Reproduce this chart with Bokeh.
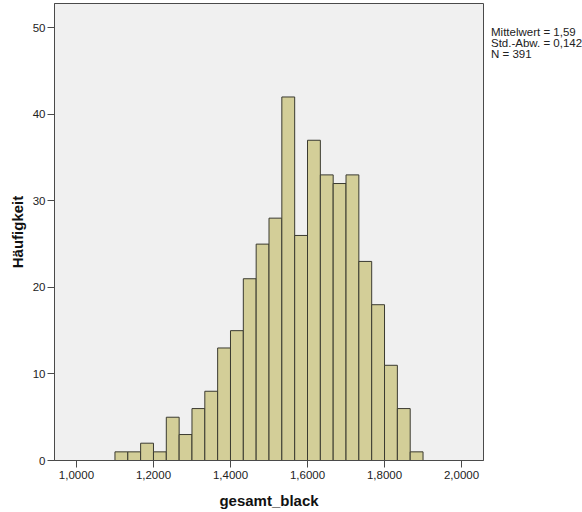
from bokeh.plotting import figure
from bokeh.models import FixedTicker, ColumnDataSource, Range1d
from bokeh.layouts import row
from bokeh.core.properties import value
from bokeh.embed import file_html
from bokeh.resources import INLINE

# Data
bin_start = 1.1
bin_end = 1.9
counts = [1, 1, 2, 1, 5, 3, 6, 8, 13, 15, 21, 25, 28, 42, 26, 37, 33, 32, 33, 23, 18, 11, 6, 1]
x_ticks = [1.0, 1.2, 1.4, 1.6, 1.8, 2.0]
x_tick_labels = ["1,0000", "1,2000", "1,4000", "1,6000", "1,8000", "2,0000"]
y_ticks = [0, 10, 20, 30, 40, 50]
stats_lines = ["Mittelwert = 1,59", "Std.-Abw. = 0,142", "N = 391"]

n = len(counts)
w = (bin_end - bin_start) / n
lefts = [bin_start + i * w for i in range(n)]
rights = [l + w for l in lefts]
src = ColumnDataSource(dict(left=lefts, right=rights, top=counts, bottom=[0] * n))

H = 512
TOP, BOTTOM = 3, 52
p = figure(width=484, height=H, output_backend="svg", toolbar_location=None,
           x_range=Range1d(0.943, 2.057), y_range=Range1d(0, 52.8),
           min_border_left=54, min_border_right=1, min_border_top=TOP, min_border_bottom=BOTTOM)
p.background_fill_color = "#F0F0F0"
p.border_fill_color = "white"
p.outline_line_color = "#4A4A4A"
p.outline_line_width = 1
p.grid.visible = False

p.quad(left="left", right="right", top="top", bottom="bottom", source=src,
       fill_color="#D3CE98", line_color="#3A3A30", line_width=1)

for ax in (p.xaxis[0], p.yaxis[0]):
    ax.axis_line_color = "#4A4A4A"
    ax.major_tick_line_color = "#4A4A4A"
    ax.major_tick_out = 7
    ax.major_tick_in = 0
    ax.minor_tick_line_color = None
    ax.major_label_text_font = "Liberation Sans"
    ax.major_label_text_font_size = "11.5px"
    ax.major_label_text_color = "#222222"
    ax.axis_label_text_font = "Liberation Sans"
    ax.axis_label_text_font_size = "15px"
    ax.axis_label_text_font_style = "bold"
    ax.axis_label_text_color = "#111111"

p.xaxis.ticker = FixedTicker(ticks=x_ticks)
p.xaxis.major_label_overrides = {t: l for t, l in zip(x_ticks, x_tick_labels)}
p.xaxis.axis_label = "gesamt_black"
p.xaxis.major_label_standoff = 3
p.xaxis.axis_label_standoff = 10

p.yaxis.ticker = FixedTicker(ticks=y_ticks)
p.yaxis.major_label_overrides = {t: str(t) for t in y_ticks}
p.yaxis.axis_label = "Häufigkeit"
p.yaxis.major_label_standoff = 2
p.yaxis.axis_label_standoff = 4

# statistics text panel to the right of the plot area (frame aligned with p's frame,
# y range chosen so that data y == H - screen y)
W2 = 582 - 484
p2 = figure(width=W2, height=H, output_backend="svg", toolbar_location=None,
            x_range=Range1d(0, W2), y_range=Range1d(BOTTOM, H - TOP),
            min_border_left=0, min_border_right=0,
            min_border_top=TOP, min_border_bottom=BOTTOM)
p2.axis.visible = False
p2.grid.visible = False
p2.outline_line_color = None
p2.background_fill_color = "white"
first_baseline = H - 31.5
pitch = 11.0
p2.text(x=[6.5] * len(stats_lines),
        y=[first_baseline - i * pitch for i in range(len(stats_lines))],
        text=stats_lines, text_align="left", text_baseline="alphabetic",
        text_font=value("Liberation Sans"), text_font_size="11.5px", text_color="#222222")

layout = row(p, p2, spacing=0)
open("out.html", "w").write(file_html(layout, INLINE))
